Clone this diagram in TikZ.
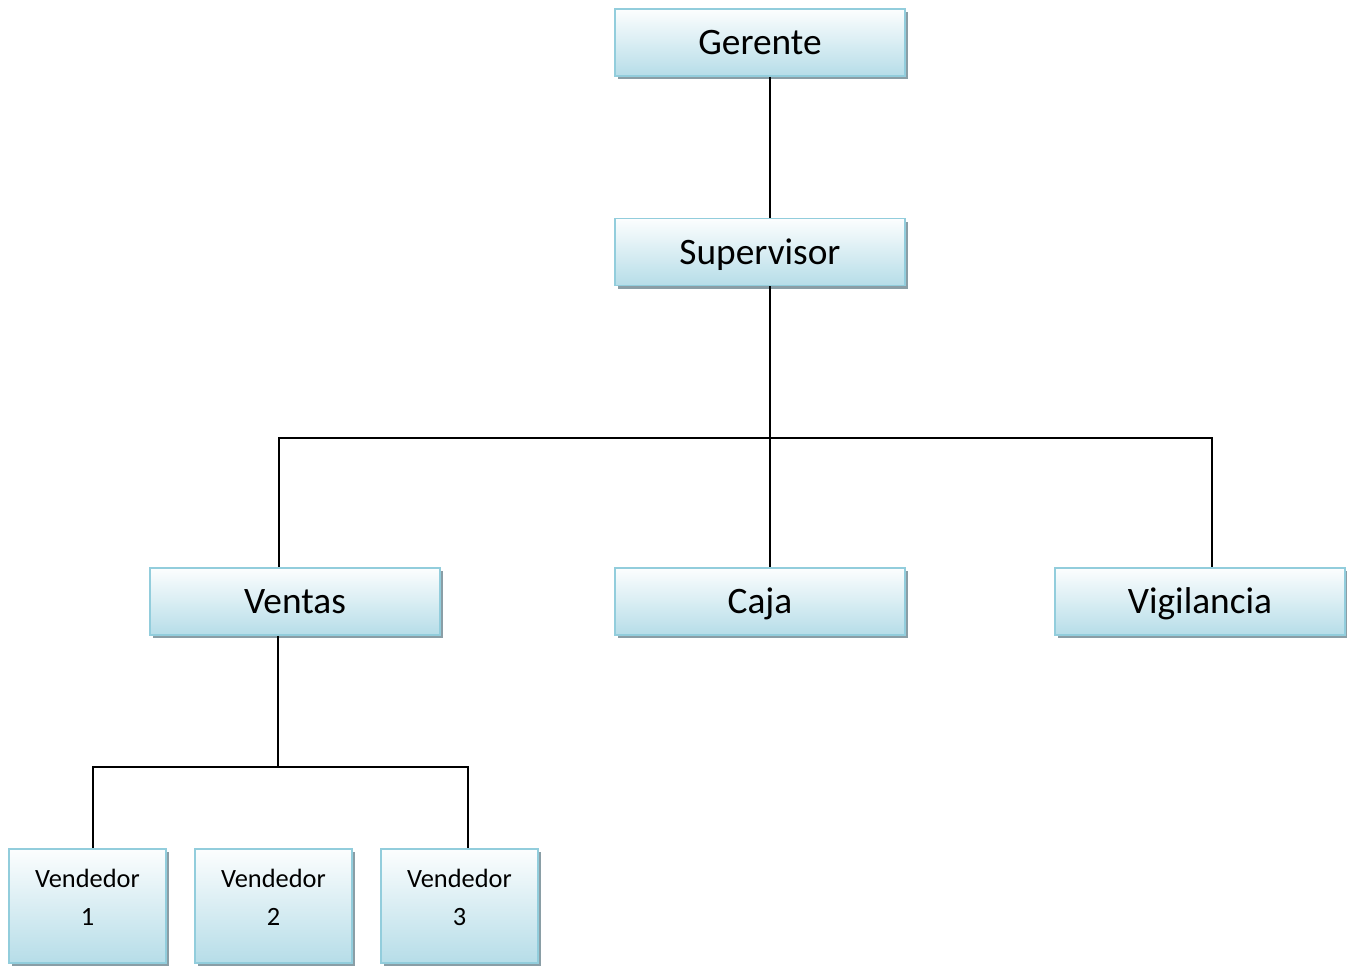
\documentclass[tikz,border=0pt]{standalone}
\usepackage{fontspec}
\setmainfont{Carlito}
\usetikzlibrary{shadows,calc}
\definecolor{boxline}{HTML}{92CDDC}
\definecolor{boxbot}{HTML}{B6DDE8}
\definecolor{boxshadow}{HTML}{8A9EA6}

\begin{document}
\begin{tikzpicture}[
  x=0.75pt, y=-0.75pt,
  unit/.style={draw=boxline, line width=1.4pt, rectangle, top color=white!96!boxbot, bottom color=boxbot,
    drop shadow={shadow xshift=2.4pt, shadow yshift=-2.4pt, fill=boxshadow, opacity=1},
    minimum width=217.5pt, minimum height=50.25pt, inner sep=0pt, text height=18pt, text depth=0pt,
    font=\fontsize{28}{33}\selectfont},
  sale/.style={unit, minimum width=117.75pt, minimum height=85.5pt, align=center,
    text height=, text depth=13.5pt, font=\fontsize{19.8}{28.5}\selectfont},
  wire/.style={line width=1.2pt, black}
]
\useasboundingbox (0,0) rectangle (1347,965);
% top of the chart
\node[unit] (ger) at (760,42.5) {Gerente};
\node[unit] (sup) at (760,252) {Supervisor};
% areas
\node[unit] (ven) at (295,601.5) {Ventas};
\node[unit] (caj) at (760,601.5) {Caja};
\node[unit] (vig) at (1200,601.5) {Vigilancia};
% sellers
\node[sale] (v1) at (87.5,906) {Vendedor\\1};
\node[sale] (v2) at (273.5,906) {Vendedor\\2};
\node[sale] (v3) at (459.5,906) {Vendedor\\3};

\coordinate (bus) at (770,438);
\coordinate (sub) at (278,767);

\draw[wire] ($(ger.south)+(10,0)$) -- ($(sup.north)+(10,0)$);
\draw[wire] ($(sup.south)+(10,0)$) -- (bus);
\draw[wire] ($(ven.north)+(-16,0)$) |- (bus) -| ($(vig.north)+(12,0)$);
\draw[wire] (bus) -- ($(caj.north)+(10,0)$);
\draw[wire] ($(ven.south)+(-17,0)$) -- (sub);
\draw[wire] ($(v1.north)+(5.5,0)$) |- (sub) -| ($(v3.north)+(8.5,0)$);
\end{tikzpicture}
\end{document}
